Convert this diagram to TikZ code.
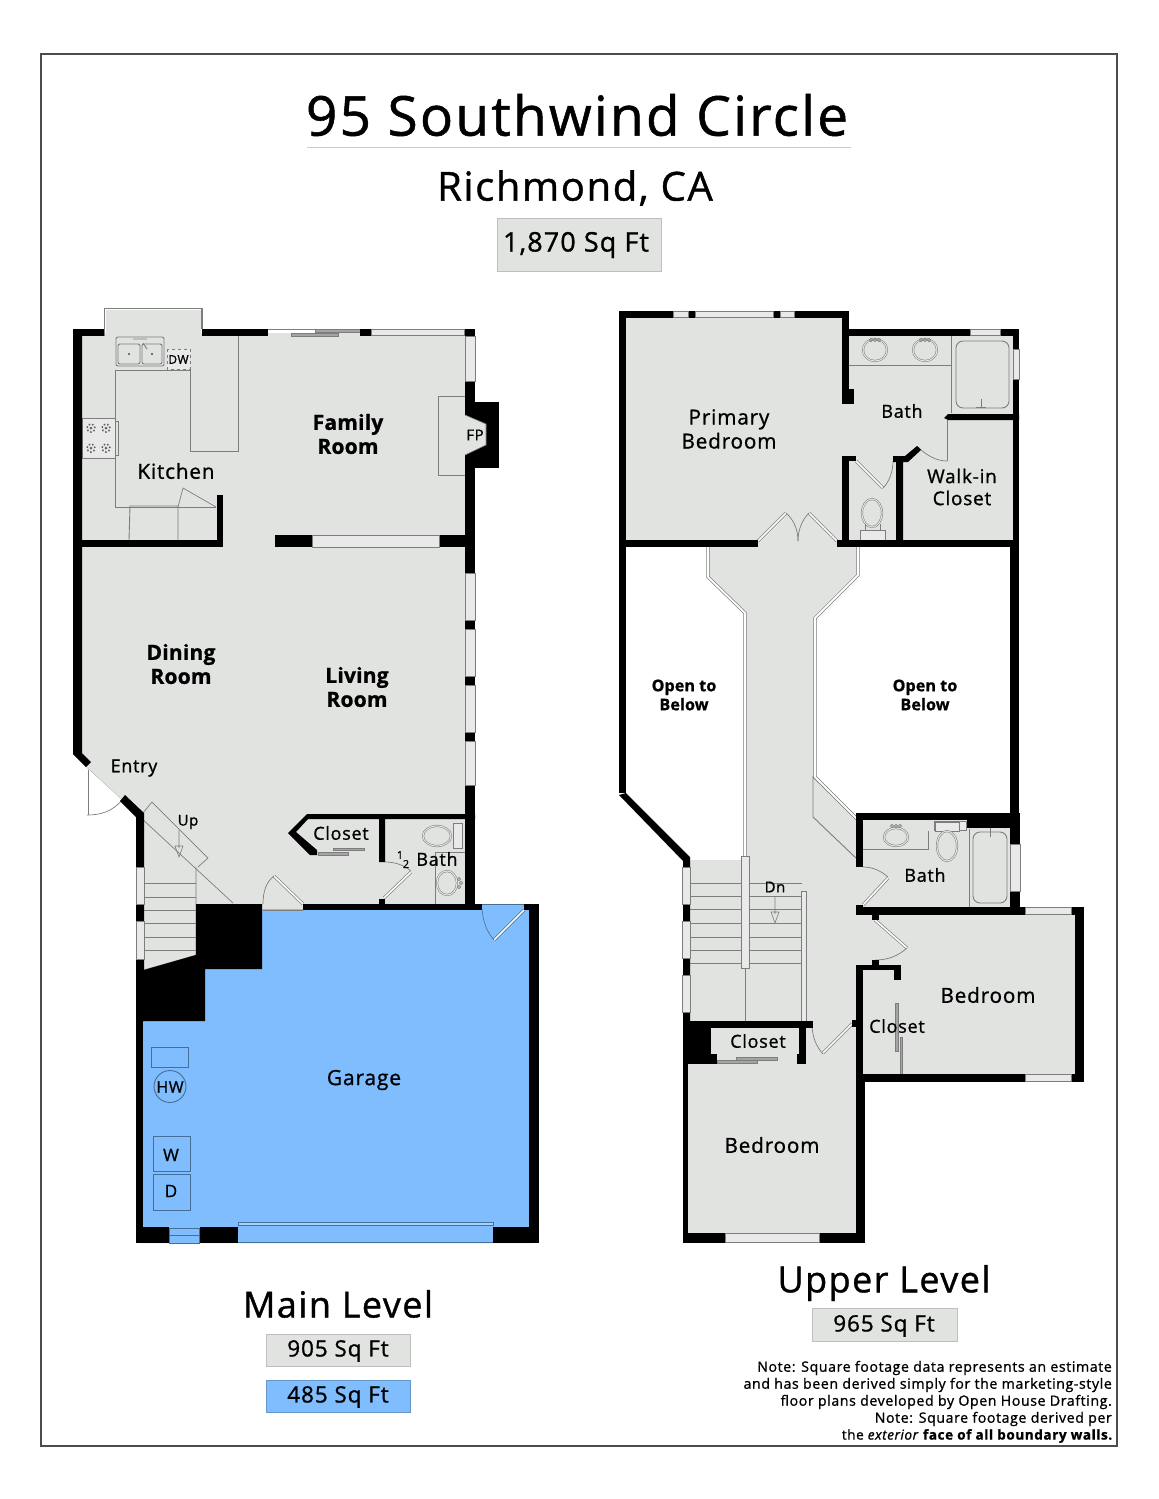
\documentclass[tikz,border=0pt]{standalone}
\usepackage{fontspec}
\setmainfont[LetterSpace=4,FakeBold=1]{Open Sans}
\definecolor{floorgray}{RGB}{225,227,225}
\definecolor{linegray}{RGB}{125,125,125}
\definecolor{wingray}{RGB}{232,233,232}
\definecolor{garageblue}{RGB}{127,189,254}
\definecolor{garageline}{RGB}{70,110,150}
\tikzset{
	wall/.style={fill=black, draw=none},
	floorarea/.style={fill=floorgray, draw=none},
	garagearea/.style={fill=garageblue, draw=none},
	fixture/.style={draw=linegray, line width=0.9pt},
	basin/.style={draw=linegray, line width=0.5pt, double=floorgray, double distance=1.1pt},
	glassbox/.style={fill=wingray, draw=linegray, line width=0.8pt},
	garagefix/.style={draw=garageline, line width=0.9pt},
	doorpanel/.style={draw=linegray, line width=0.7pt, double=white, double distance=1.6pt},
	railline/.style={draw=linegray, line width=0.7pt, double=white, double distance=1.8pt},
	slider/.style={fill=linegray!70, draw=linegray, line width=0.4pt},
	roomlabel/.style={font=\fontsize{20.7}{24}\selectfont, align=center, inner sep=0pt},
	boldlabel/.style={font=\fontsize{21}{24}\selectfont\bfseries\addfontfeature{LetterSpace=1}, align=center, inner sep=0pt},
	openlabel/.style={font=\fontsize{16}{19}\selectfont\bfseries\addfontfeature{LetterSpace=1}, align=center, inner sep=0pt},
	smalllabel/.style={font=\fontsize{16}{19}\selectfont, inner sep=0pt},
	levellabel/.style={font=\fontsize{36}{42}\selectfont, inner sep=0pt},
	notelabel/.style={font=\fontsize{14.2}{17}\selectfont, align=right, inner sep=0pt, anchor=east}
}

\begin{document}
\begin{tikzpicture}[x=1pt,y=-1pt]
	\useasboundingbox (0,0) rectangle (1159,1499);
	\fill[white] (0,0) rectangle (1159,1499);
	\draw[draw=black!70, line width=1.3pt] (41,54) rectangle (1117,1446);

	%titles
	\node[font=\fontsize{55}{60}\selectfont, inner sep=0pt] at (577,115) (title) {95 Southwind Circle};
	\draw[draw=linegray!40, line width=1pt] (307,147) -- (851,147);
	\node[font=\fontsize{40}{46}\selectfont, inner sep=0pt] at (575,188) (city) {Richmond, CA};
	\path[fill=floorgray, draw=linegray!50, line width=0.8pt] (497,218) rectangle (661,271);
	\node[font=\fontsize{27}{30}\selectfont, inner sep=0pt] at (576,245) (totalarea) {1,870 Sq Ft};

	%main level floors
	\path[floorarea] (80,333) -- (106,333) -- (106,310) -- (201,310) -- (201,333) -- (468,333) -- (468,906) -- (303,906) -- (303,911) -- (262,911) -- (262,904) -- (196,904) -- (196,955) -- (144,970) -- (140,815) -- (122,800) -- (86,767) -- (80,752) -- cycle;
	\path[garagearea] (262,909) -- (532,909) -- (532,1243) -- (140,1243) -- (140,1021) -- (205,1021) -- (205,969) -- (262,969) -- cycle;

	%upper level floors
	\path[floorarea] (624,316) -- (845,316) -- (845,334) -- (1015,334) -- (1015,543) -- (624,543) -- cycle;
	\path[floorarea] (708,540) -- (858,540) -- (858,577) -- (816,618) -- (816,777) -- (860,820) -- (860,1240) -- (686,1240) -- (686,860) -- (744,860) -- (744,613) -- (708,577) -- cycle;
	\path[floorarea] (860,818) -- (1012,818) -- (1012,910) -- (860,910) -- cycle;
	\path[floorarea] (860,912) -- (1078,912) -- (1078,1076) -- (860,1076) -- cycle;

	%kitchen fixtures
	\draw[fixture, line width=1.4pt] (104.5,336) -- (104.5,308.5) -- (202,308.5) -- (202,329);
	\draw[fixture] (238,336) -- (238,451) -- (190,451) -- (190,370) -- (115,370) -- (115,507) -- (216,507);
	\draw[fixture] (129,540) -- (130,506) -- (178,506) -- (178,540);
	\draw[fixture, line width=0.7pt] (178,507) -- (183,488) -- (216,507);
	\draw[fixture, rounded corners=2pt] (116,337) rectangle (164,366);
	\draw[fixture, rounded corners=2pt] (118,344) rectangle (140,364);
	\draw[fixture, rounded corners=2pt] (142,344) rectangle (162,364);
	\fill[black!70] (129,354) circle (1.2pt) (152,354) circle (1.2pt);
	\draw[fixture] (133,339) -- (147,339) (143,343) -- (147,349);
	\draw[fill=wingray, draw=linegray, dashed, line width=0.6pt] (167,349) rectangle (190,369);
	\node[font=\fontsize{12}{14}\selectfont, inner sep=0pt] at (178.5,359.5) (dw) {DW};
	\draw[glassbox] (82,418) rectangle (115,458);
	\draw[fixture] (116,421) -- (118,421) -- (118,455) -- (116,455);
	\draw[draw=black!65, line width=1.5pt, dotted] (91,428) circle (4pt) (106,428) circle (4pt) (91,448) circle (4pt) (106,448) circle (4pt);
	\fill[black!60] (91,428) circle (1.5pt) (106,428) circle (1.5pt) (91,448) circle (1.5pt) (106,448) circle (1.5pt);
	\draw[fixture] (438,475) -- (438,396) -- (465,396) (438,475) -- (465,475);

	%entry and stairs up
	\draw[fixture, line width=0.7pt] (87,768) -- (233,903);
	\draw[fixture, line width=0.7pt, fill=floorgray] (143,813) -- (152,802) -- (208,858) -- (198,867);
	\draw[fixture] (144,883) -- (196,883) (144,897) -- (196,897) (144,910) -- (196,910) (144,923) -- (196,923) (144,937) -- (196,937) (144,950) -- (196,950);
	\draw[fixture] (196,867) -- (196,955) (144,970) -- (197,955);
	\draw[linegray, line width=0.6pt] (179,830) -- (179,848) (175,846) -- (179,857) -- (183,846) -- cycle;

	%main level doors
	\fill[white] (86,767) -- (122,800) .. controls (112,812) and (100,815) .. (86,815) -- cycle;
	\draw[doorpanel] (87,770) -- (87,815);
	\draw[fixture, line width=0.7pt] (87,815) .. controls (100,815) and (112,812) .. (122,800);
	\draw[doorpanel] (303,904) -- (274,876);
	\draw[fixture, line width=0.7pt] (274,876) .. controls (266,882) and (263,892) .. (263,904);
	\draw[fixture, line width=0.7pt] (263,910) -- (303,910);
	\draw[doorpanel] (384,898) -- (411,872);
	\draw[fixture, line width=0.7pt] (385,862) .. controls (395,862) and (404,865) .. (411,871);

	%half bath fixtures
	\draw[fixture] (435,904) -- (435,852) -- (465,852);
	\draw[basin] (437,836) ellipse (14pt and 10pt);
	\draw[fixture, fill=wingray] (453,823) rectangle (462,848);
	\draw[basin] (447,883) ellipse (10pt and 12pt);
	\draw[fixture, line width=0.6pt] (459,879) circle (1.6pt) (459,887) circle (1.6pt) (461,883) circle (1.6pt);

	%closet slides on main level
	\draw[slider] (318,852) rectangle (348,855);
	\draw[slider] (333,848) rectangle (364,850);
	\draw[slider] (291,333) rectangle (338,336);
	\draw[slider] (315,329.5) rectangle (360,332);
	\draw[fixture] (268,329) -- (360,329);

	%main level walls
	\path[wall] (73,329) rectangle (104,336);
	\path[wall] (202,329) rectangle (268,336);
	\path[wall] (360,329) rectangle (371,336);
	\path[wall] (464,329) rectangle (475,336);
	\path[wall] (73,329) -- (82,329) -- (82,753) -- (91,762) -- (86,767) -- (73,754) -- cycle;
	\path[wall] (120,801) -- (125,795) -- (144,813) -- (144,1021) -- (136,1021) -- (136,817) -- cycle;
	\path[wall] (136,1021) rectangle (143,1243);
	\path[wall] (82,540) rectangle (223,547);
	\path[wall] (217,495) rectangle (223,547);
	\path[wall] (275,535) rectangle (312,547);
	\path[wall] (439,535) rectangle (465,547);
	\path[wall] (465,329) rectangle (475,904);
	\path[wall] (475,402) rectangle (499,468);
	\path[wall] (196,904) -- (262,904) -- (262,969) -- (205,969) -- (205,1021) -- (136,1021) -- (136,970) -- (144,970) -- (196,955) -- cycle;
	\path[wall] (303,904) rectangle (539,910);
	\path[wall] (529,904) rectangle (539,1243);
	\path[wall] (136,1227) rectangle (169,1243);
	\path[wall] (200,1227) rectangle (238,1243);
	\path[wall] (493,1227) rectangle (539,1243);
	\path[wall] (307,814) -- (475,814) -- (475,819) -- (385,819) -- (385,862) -- (379,862) -- (379,819) -- (308,819) -- (296,832) -- (317,850) -- (317,855) -- (310,855) -- (288,833) -- cycle;
	\path[wall] (379,899) rectangle (385,904);
	\path[floorarea] (465,415) -- (486,424) -- (486,445) -- (465,455) -- cycle;
	\draw[fixture, line width=0.6pt] (465,415) -- (486,424) -- (486,445) -- (465,455);

	%main level windows
	\draw[glassbox] (371,329.5) rectangle (464,335.5);
	\draw[glassbox] (465,336) rectangle (475,381);
	\draw[glassbox] (465,573) rectangle (475,620);
	\draw[glassbox] (465,629) rectangle (475,676);
	\draw[glassbox] (465,685) rectangle (475,732);
	\draw[glassbox] (465,741) rectangle (475,785);
	\draw[glassbox] (136,867) rectangle (144,904);
	\draw[glassbox] (136,921) rectangle (144,959);
	\draw[glassbox] (312,535) rectangle (439,547);

	%garage
	\path[garagearea] (482,904) rectangle (524,911);
	\draw[garagefix, line width=0.6pt] (482,904) -- (524,904);
	\draw[doorpanel, draw=garageline] (524,910) -- (494,940);
	\draw[garagefix, line width=0.6pt] (482,909) .. controls (483,922) and (487,932) .. (494,940);
	\path[garagearea] (238,1226) rectangle (493,1243);
	\draw[garagefix, line width=0.6pt] (238,1242.5) -- (493,1242.5);
	\draw[garagefix, fill=garageblue!70!white, line width=0.7pt] (238,1222) rectangle (493,1225.5);
	\path[garagearea] (169,1227) rectangle (200,1243);
	\draw[garagefix, line width=0.7pt] (169,1228) rectangle (199,1243) (169,1235) -- (199,1235);
	\draw[garagefix] (151,1047) rectangle (188,1067);
	\draw[garagefix] (170,1086.5) circle (16pt);
	\draw[garagefix] (153,1136) rectangle (190,1171);
	\draw[garagefix] (153,1174) rectangle (190,1210);

	%upper level railings
	\draw[fixture] (813,777) -- (857,820) -- (857,859) -- (813,817) -- cycle;
	\draw[railline] (708,547) -- (708,577) -- (745,613) -- (745,856);
	\draw[railline] (858,547) -- (858,575) -- (815,618) -- (815,777) -- (857,819);
	\draw[fixture] (690,883) -- (802,883) (690,896) -- (802,896) (690,909) -- (802,909) (690,923) -- (802,923) (690,937) -- (802,937) (690,950) -- (802,950) (690,963) -- (802,963);
	\draw[fixture, fill=wingray] (741,856) rectangle (749,968);
	\draw[fixture, fill=wingray] (801,891) rectangle (806,1021);
	\draw[fixture] (745,968) -- (745,1021);
	\draw[linegray, line width=0.6pt] (775,897) -- (775,914) (771,912) -- (775,923) -- (779,912) -- cycle;

	%upper bath fixtures
	\draw[fixture] (849,365) -- (951,365) (951,336) -- (951,413);
	\draw[fixture, rounded corners=7pt] (956,341) rectangle (1009,408);
	\draw[basin] (875,350) ellipse (12pt and 11pt);
	\draw[basin] (925,350) ellipse (12pt and 11pt);
	\draw[fixture, line width=0.6pt] (871,340) circle (1.6pt) (875,340) circle (1.6pt) (879,340) circle (1.6pt) (921,340) circle (1.6pt) (925,340) circle (1.6pt) (929,340) circle (1.6pt);
	\draw[fixture] (981,399) -- (981,407) (976,407) -- (986,407);
	\draw[basin] (872,513) ellipse (10pt and 14pt);
	\draw[fixture, fill=wingray] (860,530) rectangle (885,540);
	\draw[fixture] (865,530) -- (865,524) (880,530) -- (880,524);

	%hall bath fixtures
	\draw[fixture] (863,849) -- (928,849) -- (928,831);
	\draw[fixture] (969,829) -- (969,907);
	\draw[fixture, fill=wingray] (934,821) rectangle (966,830);
	\draw[fixture, fill=wingray] (935,822) rectangle (959,831);
	\draw[basin] (947,846) ellipse (10pt and 15pt);
	\draw[basin] (896,837) ellipse (12pt and 9pt);
	\draw[fixture, line width=0.6pt] (892,826) circle (1.6pt) (896,826) circle (1.6pt) (900,826) circle (1.6pt);
	\draw[fixture, rounded corners=7pt] (973,832) rectangle (1007,903);
	\draw[fixture] (990,828) -- (990,837);

	%upper level doors
	\draw[doorpanel] (758,541) -- (786,513);
	\draw[doorpanel] (837,541) -- (809,513);
	\draw[fixture, line width=0.7pt] (786,513) .. controls (794,520) and (798,530) .. (798,541);
	\draw[fixture, line width=0.7pt] (809,513) .. controls (802,520) and (798,530) .. (798,541);
	\draw[doorpanel] (856,461) -- (883,488);
	\draw[fixture, line width=0.7pt] (883,488) .. controls (889,482) and (893,472) .. (893,461);
	\draw[fixture] (947,420) -- (947,461);
	\draw[fixture, line width=0.7pt] (947,461) .. controls (936,461) and (926,455) .. (918,447);
	\draw[doorpanel] (863,905) -- (888,878);
	\draw[fixture, line width=0.7pt] (863,867) .. controls (873,867) and (881,871) .. (888,877);
	\draw[doorpanel] (875,920) -- (907,948);
	\draw[fixture, line width=0.7pt] (907,948) .. controls (898,956) and (888,960) .. (875,960);
	\draw[doorpanel] (852,1024) -- (823,1053);
	\draw[fixture, line width=0.7pt] (812,1027) .. controls (813,1038) and (816,1046) .. (823,1054);

	%closet slides on upper level
	\draw[slider] (717,1060) rectangle (757,1063);
	\draw[slider] (736,1057) rectangle (777,1060);
	\draw[slider] (895,1003) rectangle (898,1051);
	\draw[slider] (900,1037) rectangle (902,1074);

	%upper level walls
	\path[wall] (619,311) rectangle (849,318);
	\path[wall] (619,311) rectangle (626,793);
	\path[wall] (619,795) -- (626,793) -- (690,857) -- (690,1021) -- (683,1021) -- (683,861) -- cycle;
	\path[wall] (683,1021) rectangle (688,1243);
	\path[wall] (842,311) rectangle (849,404);
	\path[wall] (842,389) rectangle (854,404);
	\path[wall] (849,329) rectangle (1019,336);
	\path[wall] (1013,329) rectangle (1019,547);
	\path[wall] (944,418) -- (948,414) -- (1019,414) -- (1019,420) -- (948,420) -- cycle;
	\path[wall] (842,456) rectangle (856,461);
	\path[wall] (842,456) rectangle (849,547);
	\path[wall] (893,456) -- (905,456) -- (917,446) -- (921,450) -- (908,462) -- (903,462) -- (903,541) -- (896,541) -- (896,462) -- (893,462) -- cycle;
	\path[wall] (626,540) rectangle (758,547);
	\path[wall] (837,540) rectangle (1019,547);
	\path[wall] (1010,540) rectangle (1019,820);
	\path[wall] (856,813) rectangle (1020,820);
	\path[wall] (967,813) rectangle (1020,828);
	\path[wall] (856,813) rectangle (863,867);
	\path[wall] (1010,813) rectangle (1020,915);
	\path[wall] (856,905) rectangle (863,915);
	\path[wall] (856,907) rectangle (1084,915);
	\path[wall] (1075,907) rectangle (1084,1082);
	\path[wall] (856,1074) rectangle (1084,1082);
	\path[wall] (872,915) rectangle (879,920);
	\path[wall] (872,960) rectangle (879,966);
	\path[wall] (856,965) rectangle (901,970);
	\path[wall] (894,965) rectangle (901,980);
	\path[wall] (856,965) rectangle (863,1082);
	\path[wall] (856,1082) rectangle (865,1243);
	\path[wall] (852,1020) rectangle (857,1027);
	\path[wall] (683,1021) rectangle (813,1028);
	\path[wall] (683,1021) rectangle (711,1064);
	\path[wall] (711,1054) rectangle (717,1064);
	\path[wall] (799,1021) rectangle (806,1064);
	\path[wall] (797,1054) rectangle (806,1064);
	\path[wall] (683,1233) rectangle (865,1243);

	%upper level windows
	\draw[glassbox] (673,311.5) rectangle (688,317.5);
	\draw[glassbox] (695,311.5) rectangle (773,317.5);
	\draw[glassbox] (780,311.5) rectangle (794,317.5);
	\draw[glassbox] (970,329.5) rectangle (1000,335.5);
	\draw[glassbox] (1013,349) rectangle (1019,379);
	\draw[glassbox] (1010,844) rectangle (1020,891);
	\draw[glassbox] (1025,907.5) rectangle (1071,914.5);
	\draw[glassbox] (1025,1074.5) rectangle (1071,1081.5);
	\draw[glassbox] (725,1233.5) rectangle (819,1242.5);
	\draw[glassbox] (682,867) rectangle (690,904);
	\draw[glassbox] (682,921) rectangle (690,958);
	\draw[glassbox] (682,975) rectangle (690,1012);

	%room text on main level
	\node[roomlabel] at (176,471) (kitchen) {Kitchen};
	\node[boldlabel] at (348,434) (family) {Family\\Room};
	\node[font=\fontsize{15}{18}\selectfont, inner sep=0pt] at (475,435) (fp) {FP};
	\node[boldlabel] at (181,664) (dining) {Dining\\Room};
	\node[boldlabel] at (357,687) (living) {Living\\Room};
	\node[smalllabel, font=\fontsize{18}{20}\selectfont] at (134,768) (entry) {Entry};
	\node[smalllabel, font=\fontsize{15}{18}\selectfont] at (188,822) (up) {Up};
	\node[smalllabel, font=\fontsize{18}{21}\selectfont] at (341,833) (closetmain) {Closet};
	\node[smalllabel, font=\fontsize{11}{13}\selectfont] at (400,855) (halfone) {1};
	\node[smalllabel, font=\fontsize{11}{13}\selectfont] at (406,864) (halftwo) {2};
	\node[smalllabel, font=\fontsize{18}{21}\selectfont] at (437,859) (bathhalf) {Bath};
	\node[font=\fontsize{21}{24}\selectfont, inner sep=0pt] at (364,1080) (garage) {Garage};
	\node[smalllabel] at (170,1087) (hw) {HW};
	\node[smalllabel, font=\fontsize{17}{19}\selectfont] at (171,1155) (washer) {W};
	\node[smalllabel, font=\fontsize{17}{19}\selectfont] at (171,1191) (dryer) {D};

	%room text on upper level
	\node[roomlabel] at (729,429) (primary) {Primary\\Bedroom};
	\node[smalllabel, font=\fontsize{18}{21}\selectfont] at (902,411) (bathprimary) {Bath};
	\node[smalllabel, font=\fontsize{19}{22}\selectfont, align=center] at (962,487) (walkin) {Walk-in\\Closet};
	\node[openlabel] at (684,695) (openleft) {Open to\\Below};
	\node[openlabel] at (925,695) (openright) {Open to\\Below};
	\node[smalllabel, font=\fontsize{15}{18}\selectfont] at (775,887) (dn) {Dn};
	\node[smalllabel, font=\fontsize{18}{21}\selectfont] at (925,875) (bathhall) {Bath};
	\node[smalllabel, font=\fontsize{18}{21}\selectfont] at (758,1041) (closetlow) {Closet};
	\node[smalllabel, font=\fontsize{18}{21}\selectfont] at (897,1026) (closetright) {Closet};
	\node[roomlabel] at (988,995) (bedroomright) {Bedroom};
	\node[roomlabel] at (772,1145) (bedroomlow) {Bedroom};

	%level text
	\node[levellabel] at (338,1304) (mainlevel) {Main Level};
	\path[fill=floorgray, draw=linegray!50, line width=0.8pt] (266,1334) rectangle (410,1366);
	\node[font=\fontsize{22.5}{26}\selectfont, inner sep=0pt] at (338,1351) (mainarea) {905 Sq Ft};
	\path[fill=garageblue, draw=garageblue!80!black, line width=0.8pt] (266,1380) rectangle (410,1412);
	\node[font=\fontsize{22.5}{26}\selectfont, inner sep=0pt] at (338,1397) (garagetotal) {485 Sq Ft};
	\node[levellabel] at (884,1283) (upperlevel) {Upper Level};
	\path[fill=floorgray, draw=linegray!50, line width=0.8pt] (812,1308) rectangle (957,1341);
	\node[font=\fontsize{22.5}{26}\selectfont, inner sep=0pt] at (884,1326) (upperarea) {965 Sq Ft};
	\node[notelabel] at (1112,1368) (noteone) {Note: Square footage data represents an estimate};
	\node[notelabel] at (1112,1385) (notetwo) {and has been derived simply for the marketing-style};
	\node[notelabel] at (1112,1402) (notethree) {floor plans developed by Open House Drafting.};
	\node[notelabel] at (1112,1419) (notefour) {Note: Square footage derived per};
	\node[notelabel, font=\fontsize{13.6}{17}\selectfont] at (1113,1436) (notefive) {the \textit{exterior} \textbf{face of all boundary walls.}};
\end{tikzpicture}
\end{document}
